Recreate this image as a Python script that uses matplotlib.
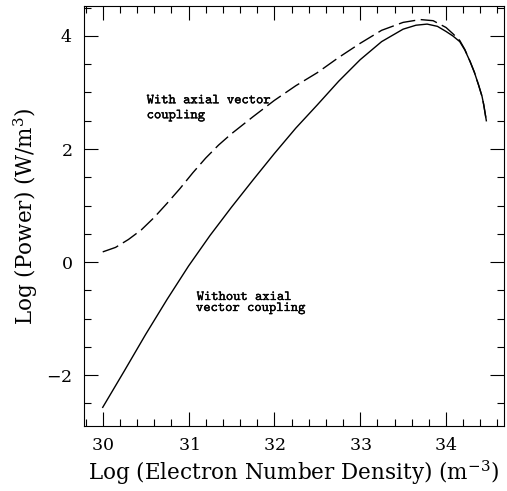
import matplotlib
matplotlib.use("Agg")
import matplotlib.pyplot as plt
import matplotlib.patheffects as pe
from matplotlib.ticker import MultipleLocator

plt.rcParams['mathtext.fontset'] = 'dejavuserif'
plt.rcParams['axes.formatter.use_mathtext'] = True
plt.rcParams['font.family'] = ['DejaVu Serif']

# Without axial vector coupling (solid)
x_solid = [30.0, 30.25, 30.5, 30.75, 31.0, 31.25, 31.5, 31.75, 32.0, 32.25, 32.5,
           32.75, 33.0, 33.25, 33.5, 33.65, 33.78, 33.9, 34.0, 34.08, 34.16, 34.22,
           34.28, 34.33, 34.38, 34.42, 34.44, 34.47]
y_solid = [-2.57, -1.93, -1.28, -0.66, -0.07, 0.47, 0.97, 1.45, 1.92, 2.37, 2.78,
           3.20, 3.58, 3.90, 4.12, 4.19, 4.21, 4.17, 4.08, 4.00, 3.90, 3.75,
           3.55, 3.36, 3.13, 2.93, 2.78, 2.50]

# With axial vector coupling (dashed)
x_dash = [30.0, 30.15, 30.3, 30.45, 30.6, 30.75, 30.9, 31.05, 31.2, 31.35, 31.5,
          31.75, 32.0, 32.25, 32.5, 32.75, 33.0, 33.25, 33.5, 33.7, 33.85, 34.0,
          34.08, 34.16, 34.22, 34.28, 34.33, 34.38, 34.42, 34.44, 34.47]
y_dash = [0.18, 0.26, 0.40, 0.57, 0.79, 1.04, 1.30, 1.58, 1.84, 2.07, 2.27,
          2.57, 2.86, 3.12, 3.35, 3.62, 3.87, 4.10, 4.24, 4.29, 4.27, 4.15,
          4.04, 3.92, 3.76, 3.55, 3.36, 3.13, 2.93, 2.78, 2.50]

xticks = [30, 31, 32, 33, 34]
yticks = [-2, 0, 2, 4]

fig = plt.figure(figsize=(5.07, 4.91), dpi=100)
ax = fig.add_axes([83.5/507, 1 - 426/491, (503.5-83.5)/507, (426-6)/491])

ax.plot(x_solid, y_solid, color='black', lw=1.0)
ax.plot(x_dash, y_dash, color='black', lw=1.0, dashes=(12, 4))

ax.set_xlim(29.776, 34.67)
ax.set_ylim(-2.90, 4.53)
ax.set_xticks(xticks)
ax.set_yticks(yticks)
ax.xaxis.set_minor_locator(MultipleLocator(0.2))
ax.yaxis.set_minor_locator(MultipleLocator(0.5))
ax.tick_params(which='both', direction='in', top=True, right=True, width=0.8)
ax.tick_params(which='major', length=10, labelsize=12.5, pad=8)
ax.tick_params(which='minor', length=5)
for s in ax.spines.values():
    s.set_linewidth(0.8)

ax.set_xlabel(r'Log (Electron Number Density) (m$^{-3}$)', fontsize=15.5, labelpad=3)
ax.set_ylabel(r'Log (Power) (W/m$^{3}$)', fontsize=15.5, labelpad=5)

tfont = dict(family=['cmtt10', 'DejaVu Sans Mono'], fontsize=10, color='black')
def put(px, py, s):
    x = 29.776 + (px - 83.5) / (420 / (34.67 - 29.776))
    y = 4.53 - (py - 6) / (420 / (4.53 + 2.90))
    t = ax.text(x, y, s, ha='left', va='baseline', **tfont)
    t.set_path_effects([pe.withStroke(linewidth=0.25, foreground='black')])

put(146.7, 103.3, 'With axial vector')
put(146.7, 118.3, 'coupling')
put(196.7, 300, 'Without axial')
put(196.0, 311, 'vector coupling')

fig.savefig('out.png', dpi=100)
